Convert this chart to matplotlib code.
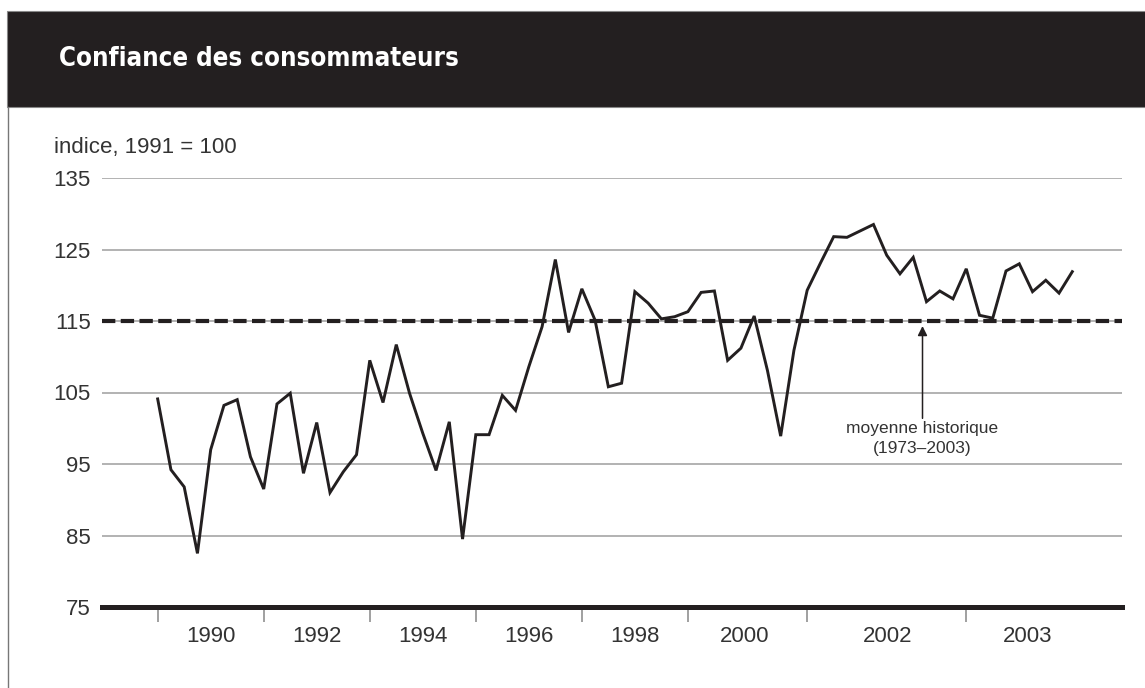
#!/usr/bin/env python3
# -*- coding: utf-8 -*-

import matplotlib
matplotlib.use('Agg')
import matplotlib.pyplot as plt
from matplotlib.patches import Rectangle
from matplotlib.lines import Line2D

# quarterly consumer confidence index (1991 = 100)
confidence = [
    104.1, 94.2, 91.8, 82.5, 97.0, 103.2, 104.0, 96.0,
    91.5, 103.4, 104.9, 93.7, 100.8, 91.0, 93.9, 96.3,
    109.5, 103.6, 111.7, 104.9, 99.3, 94.1, 100.9, 84.5,
    99.1, 99.1, 104.6, 102.5, 108.6, 114.2, 123.6, 113.4,
    119.5, 115.1, 105.8, 106.3, 119.1, 117.5, 115.3, 115.6,
    116.3, 119.0, 119.2, 109.5, 111.2, 115.7, 108.1, 98.9,
    110.9, 119.3, 123.1, 126.8, 126.7, 127.6, 128.5, 124.2,
    121.6, 123.9, 117.7, 119.2, 118.1, 122.3, 115.8, 115.4,
    122.0, 123.0, 119.1, 120.7, 118.9, 121.9,
]
historical_mean = 115

year_labels = ['1990', '1992', '1994', '1996', '1998', '2000', '2002', '2003']
label_pos = [4, 12, 20, 28, 36, 44.3, 55.1, 65.6]     # in quarter index units
separator_pos = [0, 8, 16, 24, 32, 40, 49, 61]
y_ticks = [75, 85, 95, 105, 115, 125, 135]

txt = '#333333'
ink = '#231f20'
font = ['Liberation Sans', 'DejaVu Sans']
plt.rcParams['font.family'] = font

fig = plt.figure(figsize=(11.45, 6.88), dpi=100)
W, H = 1145, 688

# header band + left frame line
fig.patches.append(Rectangle((7 / W, 1 - 107 / H), 1, 96 / H, transform=fig.transFigure,
                             facecolor=ink, edgecolor='#888888', lw=0.8, zorder=0))
fig.lines.append(Line2D([7.5 / W, 7.5 / W], [0, 1 - 107 / H], transform=fig.transFigure,
                        color='#777777', lw=1.0))
fig.text(59 / W, 1 - 59 / H, 'Confiance des consommateurs', color='white',
         fontsize=18.5, fontweight='bold', va='center', ha='left',
         family=['DejaVu Sans'], fontstretch='condensed')
fig.text(54 / W, 1 - 148 / H, 'indice, 1991 = 100', color=txt, fontsize=16,
         va='center', ha='left')

ax = fig.add_axes([102 / W, 1 - 607 / H, 1020 / W, 429 / H])
x = list(range(len(confidence)))

for v in y_ticks[1:]:
    ax.axhline(v, color='#a6a6a6', lw=1.2, zorder=1)
ax.axhline(historical_mean, color=ink, lw=3.0, dashes=(3.2, 1.3), zorder=2)
ax.plot(x, confidence, color=ink, lw=2.1, solid_joinstyle='miter', zorder=3)

ax.set_xlim(-4.2, 72.75)
ax.set_ylim(75, 135)
for s in ['top', 'right', 'left']:
    ax.spines[s].set_visible(False)
ax.spines['bottom'].set_linewidth(3.6)
ax.spines['bottom'].set_color(ink)
ax.spines['bottom'].set_zorder(4)

ax.set_yticks(y_ticks)
ax.tick_params(axis='y', length=0, pad=8, labelsize=16, labelcolor=txt)
ax.set_xticks(separator_pos)
ax.set_xticklabels([''] * len(separator_pos))
ax.tick_params(axis='x', which='major', length=11, width=1.3, color='#999999', direction='out')
ax.set_xticks(label_pos, minor=True)
ax.set_xticklabels(year_labels, minor=True)
ax.tick_params(axis='x', which='minor', length=0, pad=14, labelsize=16, labelcolor=txt)

ax.annotate('moyenne historique\n(1973\u20132003)', xy=(57.7, 114.3), xytext=(57.7, 101.0),
            ha='center', va='top', fontsize=12.5, color=txt, linespacing=1.4,
            arrowprops=dict(arrowstyle='-|>', color=ink, lw=1.1, mutation_scale=14,
                            shrinkA=0, shrinkB=0))

fig.savefig('out.png', dpi=100)
